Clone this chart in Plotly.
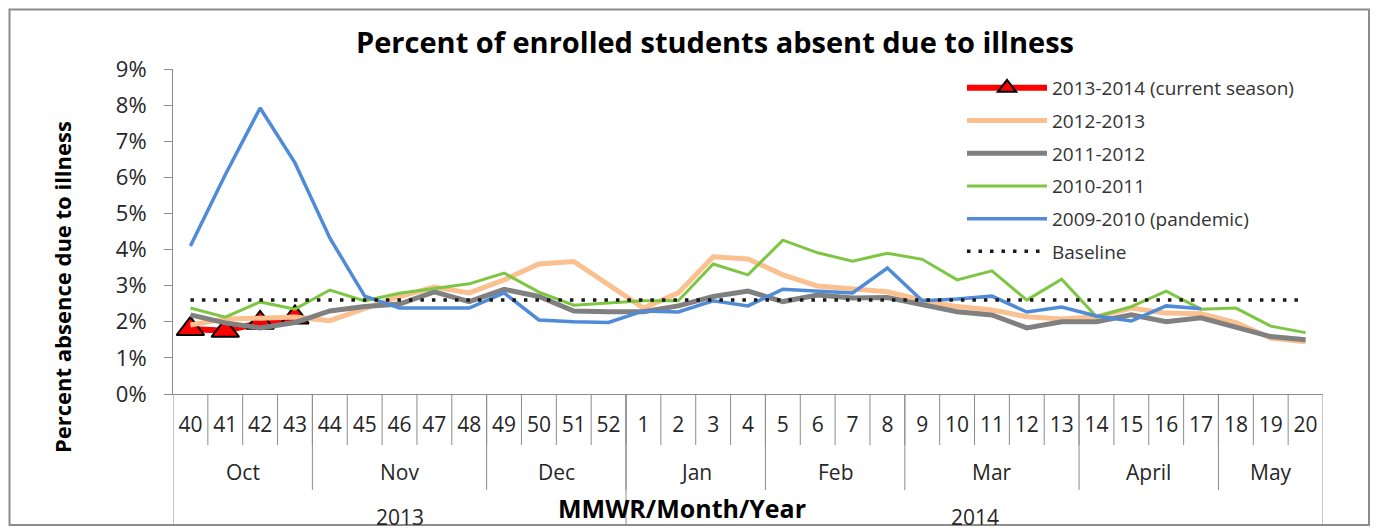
import plotly.graph_objects as go

weeks = ["40", "41", "42", "43", "44", "45", "46", "47", "48", "49", "50", "51", "52",
         "1", "2", "3", "4", "5", "6", "7", "8", "9", "10", "11", "12", "13", "14",
         "15", "16", "17", "18", "19", "20"]
months = (["Oct"] * 4 + ["Nov"] * 5 + ["Dec"] * 4 + ["Jan"] * 4 + ["Feb"] * 4
          + ["Mar"] * 5 + ["April"] * 4 + ["May"] * 3)
years = ["2013"] * 13 + ["2014"] * 20

season_2013_14 = [1.80, 1.75, 1.97, 2.12] + [None] * 29
season_2012_13 = [1.91, 2.08, 2.10, 2.13, 2.03, 2.38, 2.70, 2.96, 2.80, 3.16, 3.60, 3.67, 3.02,
                  2.38, 2.80, 3.80, 3.74, 3.30, 2.99, 2.90, 2.83, 2.60, 2.42, 2.33, 2.14, 2.08,
                  2.14, 2.38, 2.24, 2.22, 1.98, 1.55, 1.45]
season_2011_12 = [2.19, 1.97, 1.83, 1.98, 2.30, 2.42, 2.49, 2.83, 2.56, 2.90, 2.70, 2.30, 2.28,
                  2.28, 2.44, 2.70, 2.85, 2.56, 2.74, 2.66, 2.67, 2.49, 2.28, 2.19, 1.83, 2.00,
                  2.00, 2.19, 2.00, 2.11, 1.86, 1.59, 1.50]
season_2010_11 = [2.38, 2.13, 2.55, 2.35, 2.88, 2.58, 2.79, 2.93, 3.05, 3.35, 2.82, 2.46, 2.53,
                  2.58, 2.58, 3.60, 3.30, 4.26, 3.91, 3.68, 3.90, 3.73, 3.16, 3.41, 2.60, 3.18,
                  2.14, 2.42, 2.85, 2.35, 2.38, 1.88, 1.70]
season_2009_10 = [4.10, 6.07, 7.92, 6.40, 4.32, 2.71, 2.38, 2.38, 2.38, 2.80, 2.05, 2.00, 1.98,
                  2.30, 2.27, 2.58, 2.44, 2.90, 2.86, 2.80, 3.49, 2.58, 2.63, 2.71, 2.27, 2.41,
                  2.16, 2.02, 2.44, 2.36, None, None, None]
baseline = [2.6] * 33

FONT = "Open Sans"
GRAY = "#8c8c8c"
TXT = "#262626"

# the page body adds an 8px margin; work in screen-pixel coordinates minus that offset
OFF = 8
W, H = 1379 - OFF, 531 - OFF
PL, PR, PT, PB = 173, 1323, 69, 394          # plot area in screen pixels
L, R, T, B = PL - OFF, W - (PR - OFF), PT - OFF, H - (PB - OFF)
plot_w, plot_h = PR - PL, PB - PT


def px(p):
    return (p - PL) / plot_w


def py(p):
    return (PB - p) / plot_h


fig = go.Figure()
x = list(range(len(weeks)))

fig.add_trace(go.Scatter(x=x, y=season_2013_14, name="2013-2014 (current season)",
                         mode="lines+markers", legendgroup="a",
                         line=dict(color="#ff0000", width=6),
                         marker=dict(symbol="triangle-up", size=24, color="#ff0000",
                                     line=dict(color="black", width=2))))
fig.add_trace(go.Scatter(x=x, y=season_2012_13, name="2012-2013", mode="lines", legendgroup="b",
                         line=dict(color="#fac090", width=5)))
fig.add_trace(go.Scatter(x=x, y=season_2011_12, name="2011-2012", mode="lines", legendgroup="c",
                         line=dict(color="#808080", width=5)))
fig.add_trace(go.Scatter(x=x, y=season_2010_11, name="2010-2011", mode="lines", legendgroup="d",
                         line=dict(color="#7ec544", width=3)))
fig.add_trace(go.Scatter(x=x, y=season_2009_10, name="2009-2010 (pandemic)", mode="lines",
                         legendgroup="e", line=dict(color="#4f8bd6", width=3.5)))
fig.add_trace(go.Scatter(x=x, y=baseline, name="Baseline", mode="lines", legendgroup="f",
                         line=dict(color="#1a1a1a", width=3.5, dash="3.5px,8px")))

shapes = []
n = len(weeks)
for i in range(1, n):
    shapes.append(dict(type="line", xref="x", yref="paper", x0=i - 0.5, x1=i - 0.5,
                       y0=0, y1=py(445), line=dict(color=GRAY, width=1)))
for i in range(1, n):
    if months[i] != months[i - 1]:
        shapes.append(dict(type="line", xref="x", yref="paper", x0=i - 0.5, x1=i - 0.5,
                           y0=0, y1=py(490), line=dict(color=GRAY, width=1)))
edges = [0] + [i for i in range(1, n) if years[i] != years[i - 1]] + [n]
for i in edges:
    shapes.append(dict(type="line", xref="x", yref="paper", x0=i - 0.5, x1=i - 0.5,
                       y0=0, y1=py(525), line=dict(color=GRAY, width=1)))
shapes.append(dict(type="rect", xref="paper", yref="paper",
                   x0=px(9.5), x1=px(1369), y0=py(525), y1=py(9.5),
                   line=dict(color=GRAY, width=2)))

annotations = []


def group_labels(labels, ypix):
    start = 0
    for i in range(1, n + 1):
        if i == n or labels[i] != labels[start]:
            annotations.append(dict(x=(start + i - 1) / 2, y=py(ypix), xref="x", yref="paper",
                                    xanchor="center", yanchor="middle",
                                    text=labels[start], showarrow=False,
                                    font=dict(family=FONT, size=21, color=TXT)))
            start = i


group_labels(months, 472)
group_labels(years, 517)
annotations.append(dict(x=px(682), y=py(508), xref="paper", yref="paper",
                        xanchor="center", yanchor="middle",
                        text="<b>MMWR/Month/Year</b>", showarrow=False,
                        font=dict(family=FONT, size=25, color="black")))
annotations.append(dict(x=px(62), y=py(287), xref="paper", yref="paper",
                        xanchor="center", yanchor="middle",
                        text="<b>Percent absence due to illness</b>", showarrow=False,
                        textangle=-90, font=dict(family=FONT, size=22, color="black")))

fig.update_layout(
    width=W, height=H,
    margin=dict(l=L, r=R, t=T, b=B),
    paper_bgcolor="white", plot_bgcolor="white",
    title=dict(text="<b>Percent of enrolled students absent due to illness</b>",
               x=(715 - OFF) / W, xanchor="center", y=1 - (43 - OFF) / H, yanchor="middle",
               font=dict(family=FONT, size=29, color="black")),
    xaxis=dict(type="linear", range=[-0.5, n - 0.5], tickmode="array", tickvals=x,
               ticktext=weeks, ticks="", showline=True, linecolor=GRAY, linewidth=1,
               showgrid=False, zeroline=False, ticklabelstandoff=12,
               tickfont=dict(family=FONT, size=21, color=TXT)),
    yaxis=dict(range=[0, 9], dtick=1, ticksuffix="%", ticks="outside", ticklen=8,
               tickcolor=GRAY, showline=True, linecolor=GRAY, linewidth=1,
               showgrid=False, zeroline=False, ticklabelstandoff=13,
               tickfont=dict(family=FONT, size=22, color=TXT)),
    legend=dict(x=px(962), y=py(69), xanchor="left", yanchor="top",
                font=dict(family=FONT, size=19, color="#333333"), tracegroupgap=5,
                itemwidth=80, bgcolor="rgba(0,0,0,0)"),
    shapes=shapes, annotations=annotations, showlegend=True,
)

fig.write_html("out.html")
